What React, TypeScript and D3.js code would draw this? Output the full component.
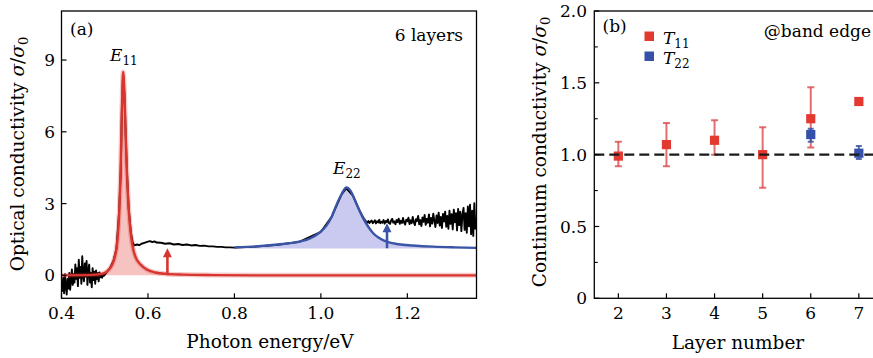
import React from 'react';
import * as d3 from 'd3';

type Pt = [number, number];

// ---------- Panel (a) data ----------
const aXTicks = [0.4, 0.6, 0.8, 1.0, 1.2];
const aXTickLabels = ['0.4', '0.6', '0.8', '1.0', '1.2'];
const aYTicks = [0, 3, 6, 9];
const aYTickLabels = ['0', '3', '6', '9'];

// E11 fit (red)
const redFit: Pt[] = [
  [0.400, 0.0], [0.460, 0.01], [0.480, 0.03], [0.4925, 0.06], [0.5025, 0.13], [0.5125, 0.3],
  [0.5185, 0.5], [0.5225, 0.72], [0.5265, 1.05], [0.5305, 1.7], [0.5335, 2.62], [0.5365, 4.25],
  [0.5395, 6.8], [0.5425, 8.5], [0.5455, 7.65], [0.5485, 5.89], [0.5515, 4.25], [0.5555, 2.75],
  [0.5605, 1.7], [0.5665, 1.05], [0.5725, 0.72], [0.5825, 0.46], [0.5975, 0.24], [0.6175, 0.12],
  [0.6425, 0.06], [0.680, 0.03], [0.750, 0.01], [0.850, 0.0], [1.100, 0.0], [1.360, 0.0],
];

// E22 fit (blue)
const blueFit: Pt[] = [
  [0.800, 1.17], [0.850, 1.21], [0.900, 1.29], [0.950, 1.41], [0.975, 1.54], [0.995, 1.76],
  [1.013, 2.08], [1.025, 2.45], [1.036, 2.94], [1.048, 3.40], [1.059, 3.67], [1.066, 3.60],
  [1.074, 3.35], [1.082, 3.00], [1.090, 2.68], [1.098, 2.38], [1.110, 2.02], [1.121, 1.76],
  [1.135, 1.56], [1.152, 1.41], [1.180, 1.30], [1.213, 1.25], [1.260, 1.20], [1.310, 1.17],
  [1.360, 1.15],
];
const blueFillBase = 1.12;

// measured spectrum (black)
const blackLow: Pt[] = [
  [0.400, -0.30], [0.402, -0.65], [0.404, -0.10], [0.406, -0.75], [0.408, 0.05], [0.410, -0.45],
  [0.412, -0.80], [0.414, -0.15], [0.416, -0.55], [0.418, 0.10], [0.420, -0.60], [0.422, -0.20],
  [0.424, 0.25], [0.426, -0.40], [0.428, 0.05], [0.430, -0.30], [0.432, 0.45], [0.434, -0.15],
  [0.436, 0.30], [0.438, -0.45], [0.440, 0.65], [0.442, -0.10], [0.444, 0.35], [0.446, -0.35],
  [0.448, 0.80], [0.450, 0.00], [0.452, -0.25], [0.454, 0.50], [0.456, -0.05], [0.458, 0.60],
  [0.460, -0.40], [0.462, 0.20], [0.464, 0.45], [0.466, -0.30], [0.468, 0.10], [0.470, -0.50],
  [0.472, 0.30], [0.474, -0.20], [0.476, 0.15], [0.478, -0.35], [0.480, 0.20], [0.482, -0.15],
  [0.484, 0.10], [0.486, -0.25], [0.488, 0.12], [0.490, -0.08], [0.492, 0.05], [0.494, -0.10],
  [0.496, 0.04], [0.498, -0.02], [0.500, 0.02],
];
const blackPeak: Pt[] = [
  [0.505, 0.15], [0.512, 0.3], [0.520, 0.6], [0.527, 1.1], [0.533, 2.6], [0.537, 4.3],
  [0.5395, 6.8], [0.5425, 8.4], [0.5455, 7.6], [0.5485, 5.9], [0.5515, 4.3], [0.5555, 2.8],
  [0.5605, 1.8], [0.5645, 1.4],
];
const blackMid: Pt[] = [
  [0.568, 1.25], [0.575, 1.29], [0.580, 1.26], [0.585, 1.32], [0.590, 1.35], [0.595, 1.38],
  [0.600, 1.41], [0.605, 1.43], [0.610, 1.39], [0.615, 1.42], [0.620, 1.37], [0.630, 1.36],
  [0.640, 1.32], [0.650, 1.34], [0.660, 1.29], [0.670, 1.31], [0.680, 1.27], [0.690, 1.29],
  [0.700, 1.25], [0.710, 1.27], [0.720, 1.23], [0.730, 1.24], [0.740, 1.21], [0.750, 1.21],
  [0.760, 1.19], [0.770, 1.19], [0.780, 1.17], [0.790, 1.17], [0.800, 1.16],
];
const blackUnderBlue: Pt[] = [
  [0.850, 1.20], [0.900, 1.28], [0.950, 1.40], [1.000, 1.82], [1.025, 2.45], [1.048, 3.38],
  [1.059, 3.64], [1.074, 3.33], [1.090, 2.68], [1.100, 2.36],
];
const blackHigh: Pt[] = [
  [1.1050, 2.24], [1.1075, 2.20], [1.1100, 2.27], [1.1125, 2.19], [1.1150, 2.25], [1.1175, 2.29],
  [1.1200, 2.18], [1.1225, 2.23], [1.1250, 2.30], [1.1275, 2.17], [1.1300, 2.26], [1.1325, 2.21],
  [1.1350, 2.32], [1.1375, 2.18], [1.1400, 2.24], [1.1425, 2.20], [1.1450, 2.31], [1.1475, 2.16],
  [1.1500, 2.27], [1.1525, 2.22], [1.1550, 2.34], [1.1575, 2.19], [1.1600, 2.15], [1.1625, 2.29],
  [1.1650, 2.36], [1.1675, 2.20], [1.1700, 2.25], [1.1725, 2.14], [1.1750, 2.31], [1.1775, 2.23],
  [1.1800, 2.37], [1.1825, 2.15], [1.1850, 2.28], [1.1875, 2.19], [1.1900, 2.40], [1.1925, 2.21],
  [1.1950, 2.12], [1.1975, 2.33], [1.2000, 2.26], [1.2025, 2.41], [1.2050, 2.14], [1.2075, 2.30],
  [1.2100, 2.18], [1.2125, 2.44], [1.2150, 2.22], [1.2175, 2.10], [1.2200, 2.35], [1.2225, 2.27],
  [1.2250, 2.48], [1.2275, 2.13], [1.2300, 2.31], [1.2325, 2.06], [1.2350, 2.42], [1.2375, 2.24],
  [1.2400, 2.52], [1.2425, 2.11], [1.2450, 2.36], [1.2475, 2.20], [1.2500, 2.55], [1.2525, 2.05],
  [1.2550, 2.40], [1.2575, 2.16], [1.2600, 2.58], [1.2625, 2.28], [1.2650, 2.02], [1.2675, 2.50],
  [1.2700, 2.19], [1.2725, 2.62], [1.2750, 2.08], [1.2775, 2.44], [1.2800, 1.98], [1.2825, 2.57],
  [1.2850, 2.25], [1.2875, 2.66], [1.2900, 2.03], [1.2925, 2.48], [1.2950, 1.95], [1.2975, 2.70],
  [1.3000, 2.15], [1.3025, 2.56], [1.3050, 1.92], [1.3075, 2.74], [1.3100, 2.22], [1.3125, 2.60],
  [1.3150, 1.88], [1.3175, 2.78], [1.3200, 2.10], [1.3225, 2.66], [1.3250, 1.85], [1.3275, 2.55],
  [1.3300, 2.82], [1.3325, 1.90], [1.3350, 2.60], [1.3375, 1.78], [1.3400, 2.88], [1.3425, 2.05],
  [1.3450, 2.95], [1.3475, 1.72], [1.3500, 2.70], [1.3525, 1.65], [1.3550, 3.02], [1.3575, 1.95],
  [1.3600, 2.40],
];

// arrows: energy, from, to
const arrowEnergy = [0.645, 1.153];
const arrowFrom = [0.0, 1.13];
const arrowTo = [1.13, 2.18];
const arrowColor = ['#d8352f', '#3b55a6'];

// ---------- Panel (b) data ----------
const layers = [2, 3, 4, 5, 6, 7];
const bXTickLabels = ['2', '3', '4', '5', '6', '7'];
const t11Value = [0.99, 1.07, 1.10, 1.00, 1.25, 1.37];
const t11Low = [0.92, 0.92, 1.00, 0.77, 1.05, 1.37];
const t11High = [1.09, 1.22, 1.24, 1.19, 1.47, 1.37];
const t22Layers = [6, 7];
const t22Value = [1.14, 1.01];
const t22Low = [1.09, 0.97];
const t22High = [1.18, 1.06];
const bYTicks = [0, 0.5, 1.0, 1.5, 2.0];
const bYTickLabels = ['0', '0.5', '1.0', '1.5', '2.0'];
const bYMinor = [0.25, 0.75, 1.25, 1.75];
const referenceLevel = 1.0;

// ---------- layout ----------
const W = 873;
const H = 358;
const FONT = "'DejaVu Serif', 'Liberation Serif', serif";
const A = { l: 61.5, r: 476.5, t: 11, b: 298.3 };
const B = { l: 594.3, r: 882.9, t: 11, b: 298.3 };

const xA = d3.scaleLinear().domain([0.4, 1.36]).range([A.l, A.r]);
const yA = d3.scaleLinear().domain([-0.96, 11.05]).range([A.b, A.t]);
const xB = d3.scaleLinear().domain([1.5, 7.5]).range([B.l, B.r]);
const yB = d3.scaleLinear().domain([0, 2]).range([B.b, B.t]);

const RED = '#d8352f';
const BLUE = '#3b55a6';

export default function App() {
  const lineA = d3.line<Pt>().x(d => xA(d[0])).y(d => yA(d[1]));
  const smoothA = d3.line<Pt>().x(d => xA(d[0])).y(d => yA(d[1])).curve(d3.curveMonotoneX);
  const redArea = d3.area<Pt>().x(d => xA(d[0])).y0(yA(0)).y1(d => yA(d[1])).curve(d3.curveMonotoneX);
  const blueArea = d3.area<Pt>().x(d => xA(d[0])).y0(yA(blueFillBase)).y1(d => yA(Math.max(d[1], blueFillBase))).curve(d3.curveMonotoneX);
  const blackAll: Pt[] = [...blackLow, ...blackPeak, ...blackMid, ...blackUnderBlue, ...blackHigh];

  const tick = 5;
  const tickFont = 17;
  const titleFont = 18.5;

  return (
    <svg width={W} height={H} style={{ position: 'absolute', left: 0, top: 0, background: '#fff' }} fontFamily={FONT}>
      <defs>
        <clipPath id="clipA"><rect x={A.l} y={A.t} width={A.r - A.l} height={A.b - A.t} /></clipPath>
        <clipPath id="clipB"><rect x={B.l} y={B.t} width={B.r - B.l} height={B.b - B.t} /></clipPath>
      </defs>
      <rect x={0} y={0} width={W} height={H} fill="#fff" />

      {/* ===== Panel (a) ===== */}
      <g clipPath="url(#clipA)">
        <path d={redArea(redFit) || ''} fill="#f6b9b6" opacity={0.85} />
        <path d={blueArea(blueFit) || ''} fill="#c4c4ee" opacity={0.9} />
        <path d={lineA(blackAll) || ''} fill="none" stroke="#000" strokeWidth={1.9} strokeLinejoin="round" />
        <path d={smoothA(redFit) || ''} fill="none" stroke={RED} strokeOpacity={0.25} strokeWidth={5} />
        <path d={smoothA(redFit) || ''} fill="none" stroke={RED} strokeWidth={2.4} />
        <path d={smoothA(blueFit) || ''} fill="none" stroke={BLUE} strokeWidth={2.4} />
        {arrowEnergy.map((e, i) => {
          const x = xA(e);
          const y0 = yA(arrowFrom[i]);
          const y1 = yA(arrowTo[i]);
          return (
            <g key={i} fill={arrowColor[i]} stroke="none">
              <line x1={x} x2={x} y1={y0} y2={y1 + 7} stroke={arrowColor[i]} strokeWidth={2.6} />
              <polygon points={`${x - 4.5},${y1 + 9} ${x + 4.5},${y1 + 9} ${x},${y1}`} />
            </g>
          );
        })}
      </g>
      <rect x={A.l} y={A.t} width={A.r - A.l} height={A.b - A.t} fill="none" stroke="#000" strokeWidth={1.3} />
      {aXTicks.map((t, i) => (
        <g key={'ax' + i}>
          <line x1={xA(t)} x2={xA(t)} y1={A.b} y2={A.b - tick} stroke="#000" strokeWidth={1.2} />
          <text x={xA(t)} y={319} textAnchor="middle" fontSize={tickFont}>{aXTickLabels[i]}</text>
        </g>
      ))}
      {aYTicks.map((t, i) => (
        <g key={'ay' + i}>
          <line x1={A.l} x2={A.l + tick} y1={yA(t)} y2={yA(t)} stroke="#000" strokeWidth={1.2} />
          <text x={55} y={yA(t)} dy="0.36em" textAnchor="end" fontSize={tickFont}>{aYTickLabels[i]}</text>
        </g>
      ))}
      <text x={70} y={35} fontSize={17}>(a)</text>
      <text x={463} y={41} fontSize={17} textAnchor="end">6 layers</text>
      <text x={110} y={61} fontSize={17}>
        <tspan fontStyle="italic">E</tspan><tspan fontSize={12} dy={4}>11</tspan>
      </text>
      <text x={333} y={174} fontSize={17}>
        <tspan fontStyle="italic">E</tspan><tspan fontSize={12} dy={4}>22</tspan>
      </text>
      <text x={270} y={348} textAnchor="middle" fontSize={titleFont}>Photon energy/eV</text>
      <text transform="translate(24,154) rotate(-90)" textAnchor="middle" fontSize={titleFont}>
        Optical conductivity <tspan fontStyle="italic">σ</tspan>/<tspan fontStyle="italic">σ</tspan><tspan fontSize={13} dy={4}>0</tspan>
      </text>

      {/* ===== Panel (b) ===== */}
      <g clipPath="url(#clipB)">
        {layers.map((l, i) => (
          t11High[i] > t11Low[i] ? (
            <g key={'e11' + i} stroke="#dc4a48" strokeOpacity={0.8} strokeWidth={2}>
              <line x1={xB(l)} x2={xB(l)} y1={yB(t11Low[i])} y2={yB(t11High[i])} />
              <line x1={xB(l) - 3.5} x2={xB(l) + 3.5} y1={yB(t11Low[i])} y2={yB(t11Low[i])} />
              <line x1={xB(l) - 3.5} x2={xB(l) + 3.5} y1={yB(t11High[i])} y2={yB(t11High[i])} />
            </g>
          ) : null
        ))}
        {t22Layers.map((l, i) => (
          <g key={'e22' + i} stroke={BLUE} strokeOpacity={0.85} strokeWidth={2}>
            <line x1={xB(l)} x2={xB(l)} y1={yB(t22Low[i])} y2={yB(t22High[i])} />
            <line x1={xB(l) - 3} x2={xB(l) + 3} y1={yB(t22Low[i])} y2={yB(t22Low[i])} />
            <line x1={xB(l) - 3} x2={xB(l) + 3} y1={yB(t22High[i])} y2={yB(t22High[i])} />
          </g>
        ))}
        {layers.map((l, i) => (
          <rect key={'m11' + i} x={xB(l) - 4.6} y={yB(t11Value[i]) - 4.6} width={9.2} height={9.2} fill="#e23a30" />
        ))}
        {t22Layers.map((l, i) => (
          <rect key={'m22' + i} x={xB(l) - 4.6} y={yB(t22Value[i]) - 4.6} width={9.2} height={9.2} fill="#3550a8" />
        ))}
        <line x1={B.l} x2={B.r} y1={yB(referenceLevel)} y2={yB(referenceLevel)} stroke="#1a1a1a" strokeWidth={2.3} strokeDasharray="10,5" />
      </g>
      <rect x={B.l} y={B.t} width={B.r - B.l} height={B.b - B.t} fill="none" stroke="#000" strokeWidth={1.3} />
      {layers.map((l, i) => (
        <g key={'bx' + i}>
          <line x1={xB(l)} x2={xB(l)} y1={B.b} y2={B.b - tick} stroke="#000" strokeWidth={1.2} />
          <text x={xB(l)} y={319} textAnchor="middle" fontSize={tickFont}>{bXTickLabels[i]}</text>
        </g>
      ))}
      {bYTicks.map((t, i) => (
        <g key={'by' + i}>
          <line x1={B.l} x2={B.l + tick} y1={yB(t)} y2={yB(t)} stroke="#000" strokeWidth={1.2} />
          <text x={587} y={yB(t)} dy="0.36em" textAnchor="end" fontSize={tickFont}>{bYTickLabels[i]}</text>
        </g>
      ))}
      {bYMinor.map((t, i) => (
        <line key={'bym' + i} x1={B.l} x2={B.l + 3.5} y1={yB(t)} y2={yB(t)} stroke="#000" strokeWidth={1.1} />
      ))}
      <text x={602.5} y={32} fontSize={17}>(b)</text>
      <text x={871} y={37} fontSize={17} textAnchor="end">@band edge</text>
      <rect x={644.5} y={31.5} width={9.5} height={9.5} fill="#e23a30" />
      <text x={663} y={43.5} fontSize={17}>
        <tspan fontStyle="italic">T</tspan><tspan fontSize={12} dy={4}>11</tspan>
      </text>
      <rect x={644.5} y={51.5} width={9.5} height={9.5} fill="#3550a8" />
      <text x={663} y={64} fontSize={17}>
        <tspan fontStyle="italic">T</tspan><tspan fontSize={12} dy={4}>22</tspan>
      </text>
      <text x={738} y={349} textAnchor="middle" fontSize={titleFont}>Layer number</text>
      <text transform="translate(546,152) rotate(-90)" textAnchor="middle" fontSize={titleFont}>
        Continuum conductivity <tspan fontStyle="italic">σ</tspan>/<tspan fontStyle="italic">σ</tspan><tspan fontSize={13} dy={4}>0</tspan>
      </text>
    </svg>
  );
}
